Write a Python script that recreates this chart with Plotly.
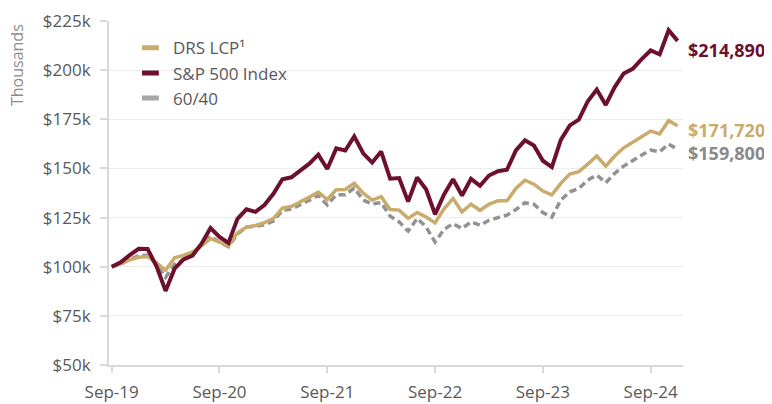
import pandas as pd
import plotly.graph_objects as go

# ---- data (thousands of $) ----
months = list(pd.period_range("2019-09", "2024-12", freq="M").strftime("%b-%y"))
tick_labels = ["Sep-19", "Sep-20", "Sep-21", "Sep-22", "Sep-23", "Sep-24"]
y_ticks = [50, 75, 100, 125, 150, 175, 200, 225]

sp500 = [100, 102.2, 105.9, 109.1, 109.0, 100.1, 87.7, 99.0, 103.7, 105.7, 111.7, 119.7,
         115.2, 112.1, 124.4, 129.2, 127.9, 131.4, 137.1, 144.5, 145.5, 148.9, 152.4, 157.0,
         149.7, 160.2, 159.1, 166.3, 157.7, 153.0, 158.6, 144.8, 145.1, 133.1, 145.4, 139.4,
         126.6, 136.8, 144.5, 136.2, 144.7, 141.2, 146.4, 148.6, 149.3, 159.2, 164.3, 161.7,
         153.9, 150.7, 164.5, 171.9, 174.8, 184.2, 190.1, 182.3, 191.4, 198.3, 200.7, 205.6,
         210.0, 208.0, 220.3, 214.89]
drs_lcp = [100, 101.5, 103.5, 104.8, 105.2, 102.0, 98.2, 104.5, 105.8, 107.5, 110.6, 114.3,
           112.5, 110.6, 117.3, 120.1, 121.0, 122.4, 124.5, 129.8, 130.6, 132.8, 135.4, 137.9,
           134.2, 139.2, 139.3, 142.4, 137.4, 133.9, 135.6, 129.1, 128.8, 124.6, 127.6, 125.3,
           122.3, 129.5, 134.7, 127.9, 131.8, 128.7, 131.8, 133.5, 133.5, 139.8, 144.0, 142.0,
           138.5, 136.6, 142.4, 147.1, 148.3, 152.2, 156.3, 151.2, 156.3, 160.5, 163.1, 166.1,
           169.0, 167.5, 174.3, 171.72]
sixty_forty = [100, 101.3, 103.8, 105.6, 105.8, 101.2, 94.6, 101.2, 103.7, 106.6, 111.0, 115.5,
               112.5, 110.2, 116.6, 120.2, 120.5, 121.3, 123.2, 128.6, 129.3, 131.4, 133.8, 136.2,
               131.4, 136.6, 136.6, 140.0, 133.9, 131.9, 132.6, 125.7, 122.8, 118.1, 124.6, 120.2,
               112.6, 119.0, 121.9, 119.4, 122.8, 121.1, 123.6, 125.0, 126.2, 129.1, 132.5, 131.8,
               127.6, 125.2, 133.9, 138.1, 139.8, 144.1, 146.6, 142.7, 147.5, 151.2, 154.2, 156.8,
               159.3, 158.5, 162.4, 159.8]

MAROON = "#6d1030"
GOLD = "#c9ab6b"
GREY = "#929292"
FONT = "Open Sans"
AXIS_GREY = "#d9d9d9"
TEXT_GREY = "#595959"

series = [
    ("60/40", sixty_forty, GREY, 3.5, "7px,4px", "#8a8a8a", -4),
    ("DRS LCP¹", drs_lcp, GOLD, 3.5, "solid", GOLD, -4),
    ("S&P 500 Index", sp500, MAROON, 4, "solid", MAROON, -9),
]

fig = go.Figure()
for name, vals, col, w, dash, _, _ in series:
    fig.add_trace(go.Scatter(x=months, y=vals, mode="lines", name=name,
                             line=dict(color=col, width=w, dash=dash),
                             showlegend=False, hoverinfo="skip"))

# legend entries (short thick swatches like the original)
legend_order = [("DRS LCP¹", GOLD), ("S&P 500 Index", MAROON), ("60/40", "#a6a6a6")]
for name, col in legend_order:
    fig.add_trace(go.Scatter(x=[None], y=[None], mode="markers", name=name,
                             marker=dict(symbol="line-ew-open", size=12, color=col,
                                         line=dict(width=5, color=col)),
                             showlegend=True))

# end-value labels
for name, vals, col, w, dash, tcol, ys in series:
    fig.add_annotation(x=months[-1], y=vals[-1], text=f"${vals[-1]*1000:,.0f}",
                       showarrow=False, xanchor="left", yanchor="middle",
                       xshift=8, yshift=ys,
                       font=dict(family=FONT, size=18, color=tcol, weight="bold"))

fig.add_annotation(xref="paper", yref="paper", x=-0.1603, y=0.872, text="Thousands",
                   textangle=-90, showarrow=False, xanchor="center", yanchor="middle",
                   font=dict(family=FONT, size=16, color="#8c8c8c"))

# page body has an 8px margin: plot-area margins are offset by 8px to compensate
fig.update_layout(
    width=772, height=404,
    margin=dict(l=101, r=97, t=13, b=47, autoexpand=False),
    paper_bgcolor="white", plot_bgcolor="white",
    font=dict(family=FONT, size=17, color=TEXT_GREY),
    legend=dict(x=0.033, y=0.973, xanchor="left", yanchor="top",
                bgcolor="rgba(0,0,0,0)", font=dict(family=FONT, size=17, color=TEXT_GREY),
                tracegroupgap=0, itemwidth=35),
    showlegend=True,
)
fig.update_xaxes(type="category", range=[-0.3, 63.6],
                 tickmode="array", tickvals=tick_labels, ticktext=tick_labels,
                 showgrid=False, showline=True, linecolor=AXIS_GREY, linewidth=2,
                 ticks="outside", ticklen=6, tickcolor=AXIS_GREY, tickwidth=2,
                 ticklabelstandoff=5,
                 tickfont=dict(family=FONT, size=17, color=TEXT_GREY), zeroline=False)
fig.update_yaxes(range=[50, 225], tickvals=y_ticks,
                 ticktext=[f"${v}k" for v in y_ticks],
                 showgrid=True, gridcolor="#ececec", gridwidth=1,
                 showline=True, linecolor=AXIS_GREY, linewidth=2,
                 ticks="outside", ticklen=7, tickcolor=AXIS_GREY, tickwidth=2,
                 ticklabelstandoff=6,
                 tickfont=dict(family=FONT, size=17, color=TEXT_GREY), zeroline=False)

fig.write_html("out.html")
